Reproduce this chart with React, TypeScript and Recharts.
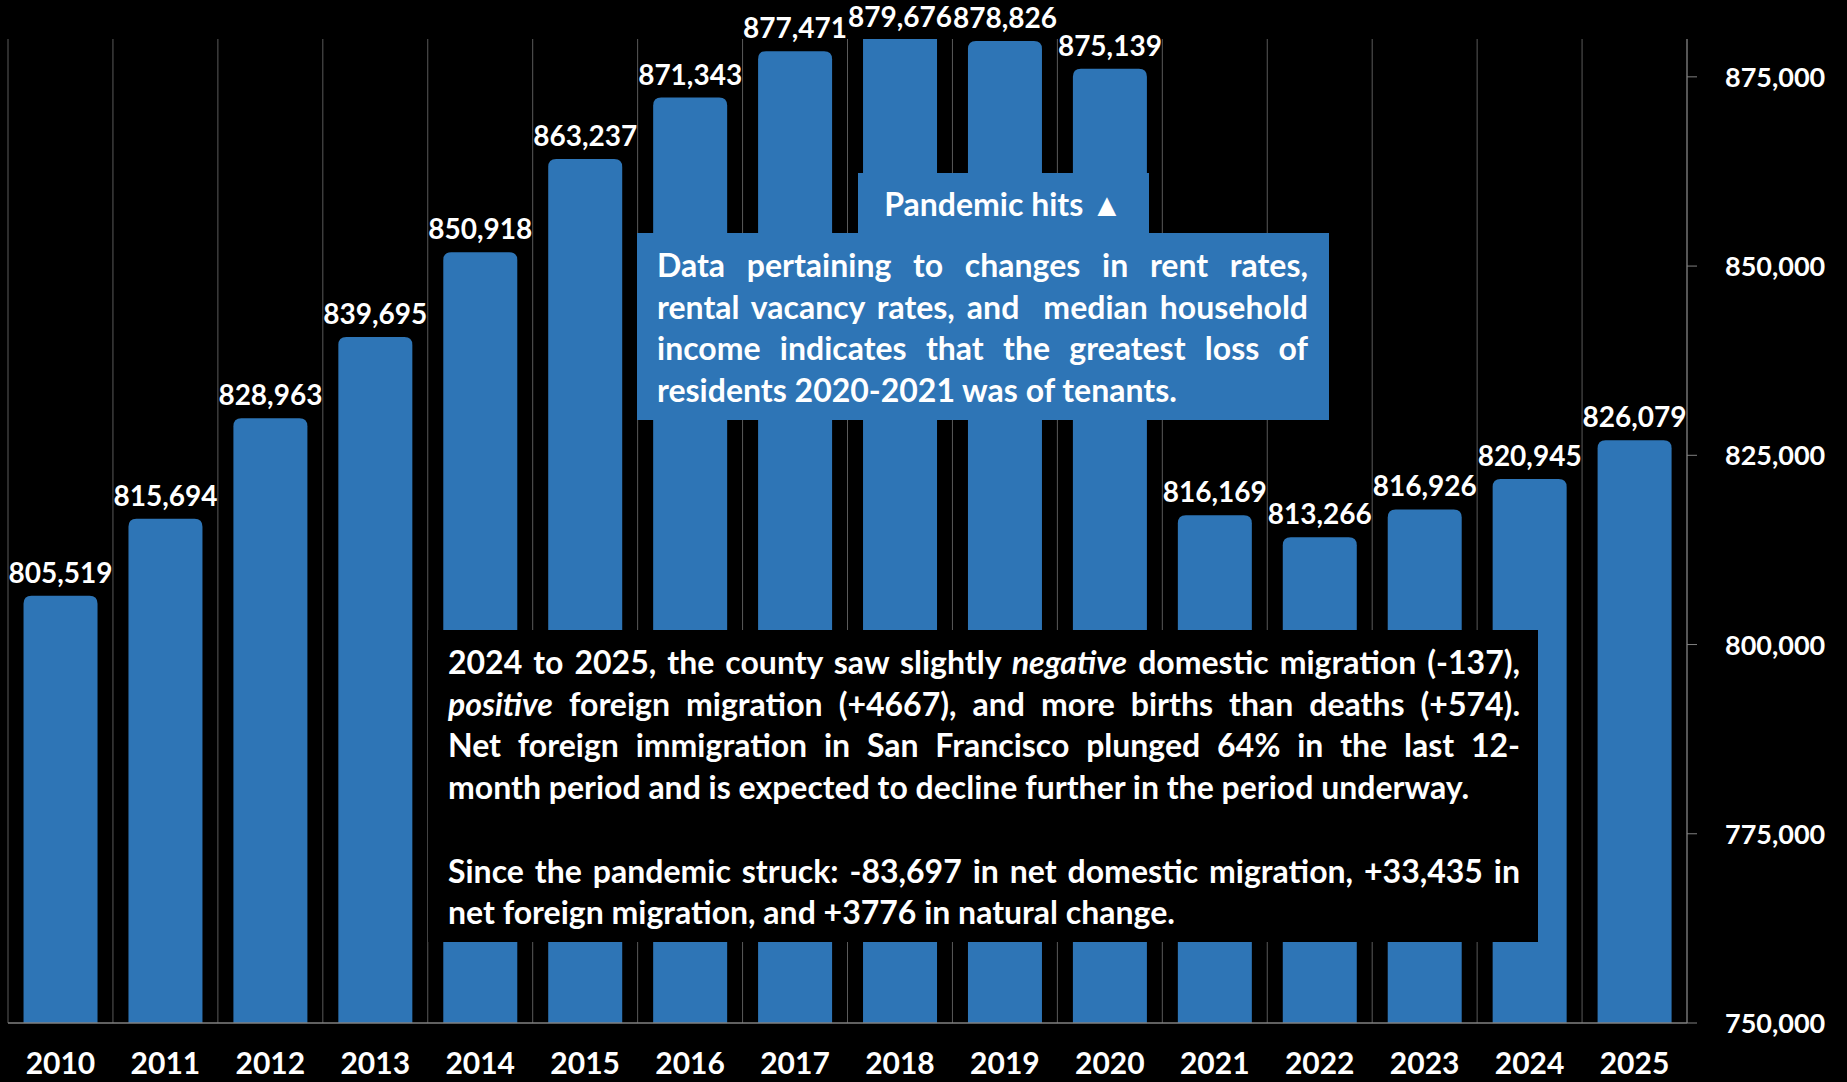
import React from 'react'
import { BarChart, Bar, XAxis, YAxis, CartesianGrid, LabelList } from 'recharts'

const YEARS = ['2010', '2011', '2012', '2013', '2014', '2015', '2016', '2017', '2018', '2019', '2020', '2021', '2022', '2023', '2024', '2025']
const POPULATION = [805519, 815694, 828963, 839695, 850918, 863237, 871343, 877471, 879676, 878826, 875139, 816169, 813266, 816926, 820945, 826079]
const Y_TICKS = [750000, 775000, 800000, 825000, 850000, 875000]
const Y_DOMAIN = [750000, 880000]
// category boundaries, used for the vertical gridlines and the x tick marks
const BOUNDARIES = Array.from({ length: YEARS.length + 1 }, (_, i) => i)

const data = YEARS.map((year, i) => ({ year, population: POPULATION[i], slot: i + 0.5 }))

const W = 1847
const H = 1082
const MARGIN = { top: 39, right: 0, bottom: 0, left: 8 }
const BLUE = '#2E75B6'
const GRID = '#5a5a5a'
const AXIS = '#808080'
const FONT = 'Lato, "Open Sans", sans-serif'
const CAP_LIFT = 7
const RADIUS = 8

const fmt = (v: number) => v.toLocaleString('en-US')

function RoundedBar(props: any) {
  const { x, y, width, height, fill } = props
  const bottom = y + height
  const top = Math.max(y - CAP_LIFT, MARGIN.top)
  const r = top > MARGIN.top ? Math.min(RADIUS, width / 2) : 0
  const d = `M${x},${bottom} L${x},${top + r} Q${x},${top} ${x + r},${top} L${x + width - r},${top} Q${x + width},${top} ${x + width},${top + r} L${x + width},${bottom} Z`
  return <path d={d} fill={fill} />
}

// value label above each bar, kept inside the page at the very top
function ValueLabel({ x, y, width, value }: any) {
  const baseline = Math.max(y - 20, 27)
  return (
    <text x={x + width / 2} y={baseline} textAnchor="middle" fill="#fff" fontSize={28} fontWeight={700} fontFamily={FONT}>
      {fmt(Number(value))}
    </text>
  )
}

function XTick({ x, y, payload }: any) {
  return (
    <text x={x} y={y} dy={50} textAnchor="middle" fill="#fff" fontSize={30} fontWeight={700} fontFamily={FONT}>
      {payload.value}
    </text>
  )
}

function YTick({ x, y, payload }: any) {
  return (
    <text x={x} y={y} dy={10} textAnchor="start" fill="#fff" fontSize={27} fontWeight={700} fontFamily={FONT}>
      {fmt(payload.value)}
    </text>
  )
}

const boxText: React.CSSProperties = {
  position: 'absolute',
  color: '#fff',
  fontFamily: FONT,
  fontWeight: 700,
  fontSize: 32,
  lineHeight: '41.7px',
  boxSizing: 'border-box',
}

function Line({ children, last }: { children: React.ReactNode; last?: boolean }) {
  return (
    <div style={{ whiteSpace: 'nowrap', textAlign: 'justify', textAlignLast: last ? 'left' : 'justify' }}>
      {children}
    </div>
  )
}

export default function App() {
  return (
    <div style={{ position: 'absolute', left: 0, top: 0, width: W, height: H, background: '#000', overflow: 'hidden' }}>
      <BarChart width={W} height={H} data={data} margin={MARGIN} barCategoryGap="14.8%">
        <XAxis
          xAxisId="b"
          dataKey="year"
          height={58}
          axisLine={false}
          tickLine={false}
          tickSize={0}
          tickMargin={0}
          tick={<XTick />}
          interval={0}
        />
        <XAxis
          xAxisId="a"
          dataKey="slot"
          type="number"
          domain={[0, YEARS.length]}
          ticks={BOUNDARIES}
          allowDataOverflow
          height={1}
          tick={false}
          tickSize={10}
          tickLine={{ stroke: AXIS }}
          axisLine={{ stroke: AXIS, strokeWidth: 1.5 }}
        />
        <YAxis
          orientation="right"
          width={160}
          domain={Y_DOMAIN}
          ticks={Y_TICKS}
          allowDataOverflow
          tickSize={10}
          tickMargin={28}
          axisLine={{ stroke: AXIS }}
          tickLine={{ stroke: AXIS }}
          tick={<YTick />}
        />
        <CartesianGrid
          horizontal={false}
          stroke={GRID}
          verticalCoordinatesGenerator={({ offset }: any) =>
            BOUNDARIES.map((i) => offset.left + (i * offset.width) / YEARS.length)
          }
        />
        <Bar xAxisId="b" dataKey="population" fill={BLUE} shape={<RoundedBar />} isAnimationActive={false}>
          <LabelList dataKey="population" content={<ValueLabel />} />
        </Bar>
      </BarChart>

      <div style={{ ...boxText, left: 858, top: 173, width: 291, height: 62, background: BLUE, display: 'flex', alignItems: 'center', justifyContent: 'center' }}>
        Pandemic hits ▲
      </div>
      <div style={{ ...boxText, left: 637, top: 233, width: 692, height: 187, background: BLUE, padding: '11px 21px 0 20px' }}>
        <Line>Data pertaining to changes in rent rates,</Line>
        <Line>rental vacancy rates, and&nbsp; median household</Line>
        <Line>income indicates that the greatest loss of</Line>
        <Line last>residents 2020-2021 was of tenants.</Line>
      </div>
      <div style={{ ...boxText, left: 428, top: 630, width: 1110, height: 312, background: '#000', padding: '11px 18px 0 20px' }}>
        <Line>2024 to 2025, the county saw slightly <i>negative</i> domestic migration (-137),</Line>
        <Line><i>positive</i> foreign migration (+4667), and more births than deaths (+574).</Line>
        <Line>Net foreign immigration in San Francisco plunged 64% in the last 12-</Line>
        <Line last>month period and is expected to decline further in the period underway.</Line>
        <div style={{ height: 41.7 }} />
        <Line>Since the pandemic struck: -83,697 in net domestic migration, +33,435 in</Line>
        <Line last>net foreign migration, and +3776 in natural change.</Line>
      </div>
    </div>
  )
}
